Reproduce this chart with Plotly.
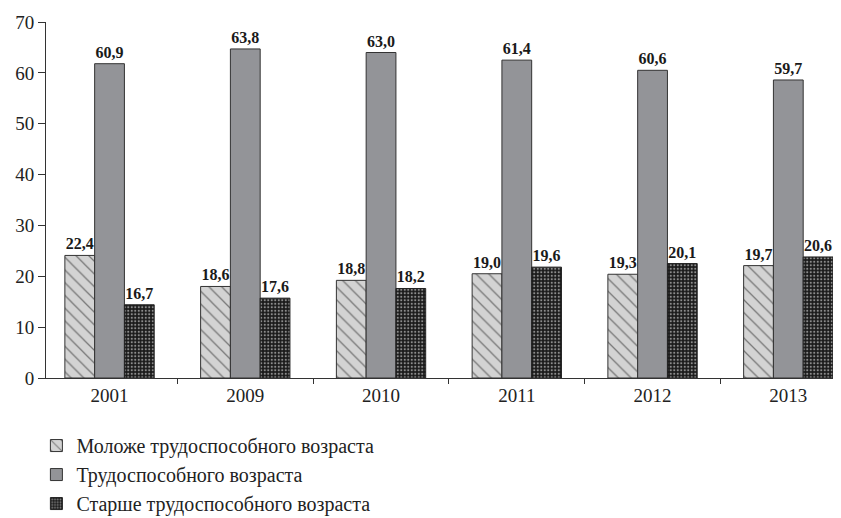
import plotly.graph_objects as go

years = ["2001", "2009", "2010", "2011", "2012", "2013"]
series_names = [
    "Моложе трудоспособного возраста",
    "Трудоспособного возраста",
    "Старше трудоспособного возраста",
]
# bar heights as drawn in the picture
young_height = [24.1, 18.0, 19.2, 20.5, 20.4, 22.1]
working_height = [61.8, 64.7, 64.0, 62.5, 60.5, 58.6]
old_height = [14.4, 15.7, 17.6, 21.8, 22.5, 23.8]
# printed value labels
young_labels = ["22,4", "18,6", "18,8", "19,0", "19,3", "19,7"]
working_labels = ["60,9", "63,8", "63,0", "61,4", "60,6", "59,7"]
old_labels = ["16,7", "17,6", "18,2", "19,6", "20,1", "20,6"]
y_ticks = [0, 10, 20, 30, 40, 50, 60, 70]

FONT = "Liberation Serif"
label_font = dict(family=FONT, size=16, color="#1a1a1a", weight="bold")

fig = go.Figure()
fig.add_trace(go.Bar(
    x=years, y=young_height, text=young_labels, name=series_names[0],
    legendgroup="a",
    marker=dict(color="#d3d3d3", line=dict(color="#333333", width=1),
                pattern=dict(shape="\\", fgcolor="#1a1a1a", bgcolor="#d3d3d3",
                             size=9, solidity=0.14)),
    textposition="outside", texttemplate="%{text}", textfont=label_font,
    constraintext="none", cliponaxis=False,
))
fig.add_trace(go.Bar(
    x=years, y=working_height, text=working_labels, name=series_names[1],
    legendgroup="b",
    marker=dict(color="#939498", line=dict(color="#333333", width=1)),
    textposition="outside", texttemplate="%{text}", textfont=label_font,
    constraintext="none", cliponaxis=False,
))
fig.add_trace(go.Bar(
    x=years, y=old_height, text=old_labels, name=series_names[2],
    legendgroup="c",
    marker=dict(color="#1a1a1a", line=dict(color="#222222", width=1),
                pattern=dict(shape=".", fgcolor="#ffffff", bgcolor="#1a1a1a",
                             size=3.5, solidity=0.3)),
    textposition="outside", texttemplate="%{text}", textfont=label_font,
    constraintext="none", cliponaxis=False,
))

fig.update_layout(
    width=841, height=518,
    margin=dict(l=38, r=3, t=14, b=130),
    paper_bgcolor="white", plot_bgcolor="white",
    barmode="group", bargap=0.342, bargroupgap=0,
    font=dict(family=FONT, size=19, color="#222222"),
    showlegend=True,
    legend=dict(
        orientation="v", x=-0.012, xanchor="left", y=-0.135, yanchor="top",
        font=dict(family=FONT, size=20, color="#222222"),
        traceorder="grouped", tracegroupgap=0,
        bgcolor="rgba(0,0,0,0)",
    ),
    xaxis=dict(
        type="category", range=[-0.468, 5.425],
        showline=True, linecolor="#333333", linewidth=1,
        ticks="outside", tickson="boundaries", ticklen=5,
        tickcolor="#333333", showgrid=False, zeroline=False,
        tickfont=dict(family=FONT, size=19, color="#222222"),
    ),
    yaxis=dict(
        range=[0, 70], tickvals=y_ticks,
        showline=True, linecolor="#333333", linewidth=1,
        ticks="outside", ticklen=7, tickcolor="#333333",
        showgrid=False, zeroline=False,
        tickfont=dict(family=FONT, size=19, color="#222222"),
    ),
)

fig.write_html("out.html")
